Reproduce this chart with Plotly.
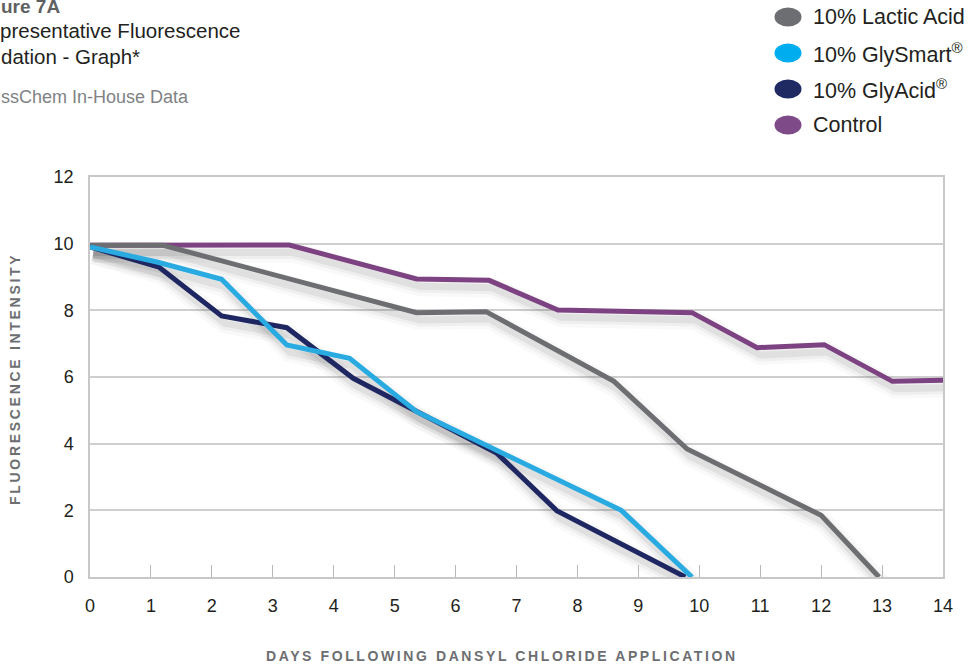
import plotly.graph_objects as go

# ---------------- data ----------------
control_days = [0, 1.2, 3.27, 5.36, 6.55, 7.68, 9.88, 10.95, 12.05, 13.17, 14]
control_vals = [9.95, 9.95, 9.96, 8.94, 8.90, 8.01, 7.93, 6.88, 6.97, 5.87, 5.90]

lactic_days = [0, 1.2, 5.36, 6.5, 8.6, 9.8, 12.0, 12.95]
lactic_vals = [9.95, 9.95, 7.93, 7.96, 5.87, 3.84, 1.85, 0]

glyacid_days = [0, 1.13, 2.16, 3.23, 4.32, 5.36, 6.68, 7.66, 9.77]
glyacid_vals = [9.9, 9.30, 7.83, 7.48, 5.96, 4.96, 3.71, 1.99, 0]

glysmart_days = [0, 1.1, 2.16, 3.23, 4.26, 5.36, 8.72, 9.88]
glysmart_vals = [9.9, 9.45, 8.93, 6.96, 6.56, 4.96, 2.00, 0]

x_ticks = list(range(0, 15))
y_ticks = [0, 2, 4, 6, 8, 10, 12]

legend_labels = ["10% Lactic Acid", "10% GlySmart<sup>®</sup>", "10% GlyAcid<sup>®</sup>", "Control"]

# ---------------- styles ----------------
C_GRAY = "#6d6e71"
C_CYAN = "#29abe2"
C_NAVY = "#1e2761"
C_PURPLE = "#7d4282"
LEGEND_COLORS = ["#6d6e71", "#00aeef", "#1f2a63", "#7f4a88"]

W, H = 974, 666
L, R, T, B = 90, 31, 177, 89
PW, PH = W - L - R, H - T - B


def px2x(px):
    return (px - L) / PW


def py2y(py):
    return (H - B - py) / PH


series = [
    (control_days, control_vals, C_PURPLE),
    (lactic_days, lactic_vals, C_GRAY),
    (glyacid_days, glyacid_vals, C_NAVY),
    (glysmart_days, glysmart_vals, C_CYAN),
]

fig = go.Figure()

# soft drop shadows beneath the lines
SH_DY = 0.22
SH_DX = 0.05
for days, vals, _ in series:
    sx = [d + SH_DX for d in days]
    sy = [v - SH_DY for v in vals]
    for wid, alpha in [(20, 0.025), (13, 0.04), (7, 0.06)]:
        fig.add_trace(go.Scatter(
            x=sx, y=sy, mode="lines",
            line=dict(color=f"rgba(0,0,0,{alpha})", width=wid),
            hoverinfo="skip", showlegend=False,
        ))

for days, vals, col in series:
    fig.add_trace(go.Scatter(
        x=days, y=vals, mode="lines",
        line=dict(color=col, width=5),
        showlegend=False,
    ))

FONT = "Liberation Sans, Arial, Helvetica, sans-serif"

fig.update_layout(
    width=W, height=H,
    margin=dict(l=L, r=R, t=T, b=B, pad=0),
    paper_bgcolor="white", plot_bgcolor="white",
    font=dict(family=FONT, color="#231f20", size=18),
    showlegend=False,
    xaxis=dict(
        range=[0, 14], tickvals=x_ticks, ticktext=[str(t) for t in x_ticks],
        showgrid=False, zeroline=False,
        showline=True, linecolor="#c8c8c8", linewidth=1.5, mirror=True,
        ticks="inside", ticklen=12, tickwidth=1, tickcolor="#b8b8b8",
        tickfont=dict(size=18, color="#231f20"),
        ticklabelstandoff=12,
    ),
    yaxis=dict(
        range=[0, 12], tickvals=y_ticks,
        showgrid=True, gridcolor="#cfcfcf", gridwidth=1.5,
        zeroline=False,
        showline=True, linecolor="#c8c8c8", linewidth=1.5, mirror=True,
        ticks="", tickfont=dict(size=18, color="#231f20"),
        ticklabelstandoff=11,
    ),
)

ann = []
# header text (cut off at the left edge as in the reference)
ann.append(dict(text="<b>ure 7A</b>", x=px2x(-1), y=py2y(7), xanchor="left", yanchor="middle",
                font=dict(size=19, color="#5f6062")))
ann.append(dict(text="presentative Fluorescence", x=px2x(-2), y=py2y(30), xanchor="left", yanchor="middle",
                font=dict(size=20.5, color="#231f20")))
ann.append(dict(text="dation - Graph*", x=px2x(-1), y=py2y(57), xanchor="left", yanchor="middle",
                font=dict(size=20.5, color="#231f20")))
ann.append(dict(text="ssChem In-House Data", x=px2x(-1), y=py2y(97), xanchor="left", yanchor="middle",
                font=dict(size=18, color="#808285")))

# axis titles (letter-spaced, bold, gray)
ann.append(dict(text='<span style="letter-spacing:2.6px"><b>DAYS FOLLOWING DANSYL CHLORIDE APPLICATION</b></span>',
                x=px2x(502), y=py2y(656), xanchor="center", yanchor="middle",
                font=dict(size=14, color=C_GRAY)))
ann.append(dict(text='<span style="letter-spacing:2.7px"><b>FLUORESCENCE INTENSITY</b></span>',
                x=px2x(15), y=py2y(379), xanchor="center", yanchor="middle", textangle=-90,
                font=dict(size=14, color=C_GRAY)))

# custom legend
shapes = []
leg_y = [17, 53, 89, 125]
for lab, col, yy in zip(legend_labels, LEGEND_COLORS, leg_y):
    shapes.append(dict(type="circle", xref="paper", yref="paper",
                       xsizemode="pixel", ysizemode="pixel",
                       xanchor=px2x(788), yanchor=py2y(yy),
                       x0=-13.5, x1=13.5, y0=-9.5, y1=9.5,
                       fillcolor=col, line=dict(width=0)))
    ann.append(dict(text=lab, x=px2x(811), y=py2y(yy), xanchor="left", yanchor="middle",
                    font=dict(size=21.5, color="#231f20")))

for a in ann:
    a.setdefault("xref", "paper")
    a.setdefault("yref", "paper")
    a.setdefault("showarrow", False)

fig.update_layout(annotations=ann, shapes=shapes)

fig.write_html(
    "out.html",
    config={"displayModeBar": False},
    post_script="document.body.style.margin='0';document.body.style.overflow='hidden';",
)
